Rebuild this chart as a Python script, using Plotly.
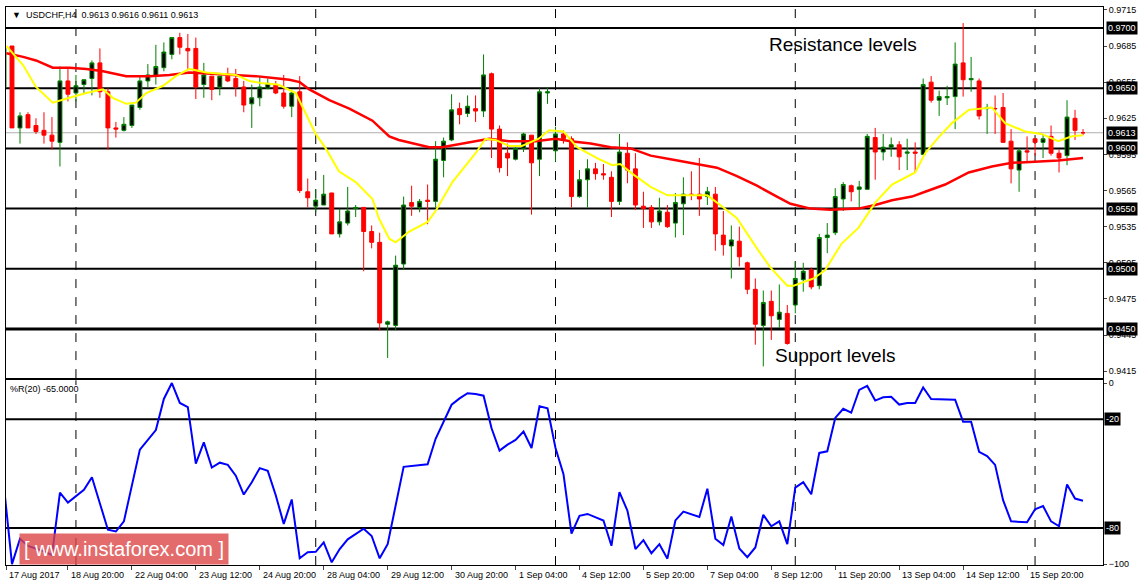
import plotly.graph_objects as go

# ---------------- data ----------------
opens = [.9650,.9685,.9617,.9628,.9619,.9615,.9611,.9605,.9656,.9646,.9653,.9658,.9671,.9647,.9617,.9615,.9619,.9634,.9656,.9660,
         .9667,.9678,.9692,.9683,.9683,.9653,.9660,.9651,.9660,.9658,.9651,.9637,.9642,.9650,.9653,.9646,.9635,.9647,.9564,.9552,
         .9553,.9563,.9529,.9538,.9550,.9551,.9531,.9522,.9454,.9453,.9504,.9555,.9551,.9557,.9556,.9590,.9607,.9633,.9629,.9633,
         .9631,.9662,.9616,.9596,.9591,.9600,.9611,.9591,.9646,.9598,.9612,.9608,.9560,.9574,.9583,.9579,.9576,.9556,.9596,.9583,
         .9552,.9551,.9539,.9547,.9538,.9554,.9562,.9562,.9560,.9562,.9528,.9519,.9523,.9505,.9483,.9453,.9473,.9458,.9463,.9470,
         .9491,.9499,.9486,.9526,.9530,.9558,.9569,.9566,.9566,.9609,.9597,.9601,.9603,.9596,.9597,.9595,.9655,.9640,.9642,.9643,
         .9671,.9657,.9656,.9633,.9633,.9634,.9606,.9582,.9598,.9608,.9605,.9610,.9596,.9594,.9625,.9613]
highs = [.9696,.9685,.9630,.9630,.9625,.9630,.9626,.9668,.9667,.9661,.9657,.9673,.9683,.9650,.9622,.9626,.9636,.9660,.9670,.9686,
         .9688,.9692,.9696,.9695,.9692,.9671,.9660,.9660,.9667,.9666,.9656,.9653,.9660,.9658,.9656,.9661,.9648,.9660,.9575,.9566,
         .9578,.9563,.9550,.9568,.9553,.9551,.9536,.9530,.9457,.9511,.9560,.9569,.9558,.9570,.9606,.9609,.9645,.9638,.9644,.9644,
         .9678,.9663,.9619,.9604,.9601,.9613,.9611,.9650,.9651,.9618,.9615,.9610,.9582,.9591,.9588,.9587,.9581,.9612,.9605,.9596,
         .9564,.9553,.9559,.9553,.9563,.9576,.9581,.9592,.9568,.9568,.9548,.9536,.9535,.9506,.9492,.9482,.9482,.9487,.9470,.9506,
         .9505,.9501,.9529,.9538,.9567,.9572,.9570,.9573,.9612,.9617,.9612,.9609,.9606,.9608,.9605,.9658,.9660,.9648,.9652,.9688,
         .9704,.9676,.9658,.9637,.9644,.9646,.9616,.9600,.9610,.9608,.9612,.9619,.9599,.9640,.9632,.9616]
lows = [.9650,.9617,.9604,.9617,.9612,.9604,.9599,.9585,.9639,.9639,.9646,.9644,.9642,.9599,.9609,.9614,.9617,.9632,.9651,.9653,
        .9664,.9674,.9678,.9665,.9641,.9642,.9640,.9644,.9655,.9643,.9630,.9617,.9635,.9649,.9645,.9633,.9626,.9563,.9551,.9547,
        .9553,.9529,.9526,.9536,.9543,.9498,.9517,.9449,.9426,.9449,.9499,.9544,.9547,.9537,.9551,.9576,.9606,.9620,.9626,.9622,
        .9626,.9592,.9580,.9577,.9590,.9597,.9545,.9577,.9637,.9589,.9604,.9551,.9559,.9551,.9574,.9574,.9543,.9553,.9571,.9549,
        .9534,.9534,.9536,.9534,.9526,.9528,.9557,.9544,.9553,.9515,.9511,.9492,.9502,.9479,.9437,.9419,.9441,.9451,.9437,.9463,
        .9481,.9483,.9483,.9513,.9528,.9548,.9556,.9549,.9566,.9574,.9590,.9593,.9582,.9582,.9580,.9595,.9638,.9627,.9636,.9616,
        .9643,.9647,.9624,.9612,.9612,.9605,.9571,.9564,.9588,.9594,.9592,.9594,.9580,.9586,.9607,.9611]
closes = [.9683,.9617,.9627,.9617,.9614,.9611,.9606,.9656,.9645,.9652,.9657,.9671,.9647,.9617,.9616,.9620,.9636,.9656,.9661,.9668,
          .9680,.9692,.9684,.9681,.9651,.9661,.9649,.9660,.9656,.9651,.9636,.9642,.9651,.9654,.9646,.9635,.9646,.9565,.9559,.9557,
          .9562,.9529,.9539,.9548,.9551,.9531,.9522,.9455,.9456,.9503,.9553,.9552,.9556,.9556,.9591,.9606,.9632,.9628,.9635,.9631,
          .9661,.9616,.9584,.9592,.9600,.9612,.9588,.9647,.9647,.9612,.9608,.9560,.9574,.9583,.9579,.9578,.9556,.9597,.9582,.9553,
          .9550,.9539,.9548,.9535,.9555,.9562,.9561,.9558,.9564,.9529,.9520,.9524,.9510,.9483,.9454,.9472,.9461,.9464,.9438,.9492,
          .9498,.9485,.9526,.9528,.9560,.9570,.9564,.9568,.9610,.9597,.9601,.9603,.9593,.9597,.9596,.9653,.9640,.9643,.9643,.9670,
          .9657,.9658,.9627,.9634,.9633,.9605,.9583,.9598,.9597,.9605,.9608,.9596,.9592,.9626,.9615,.9613]
bars = list(range(len(closes)))

fast_ma_x = [0.3,2.4,4.0,6.1,8.2,10.3,12.4,13.6,15.3,16.5,17.8,19.9,21.5,23.2,25.3,27.4,29.0,30.7,32.4,34.3,
             36.5,37.75,39,40.25,41.9,44,46.1,46.9,48.2,49,50.7,53,54,56.1,59,60.25,61.5,63.2,64.8,66.9,68.2,
             70,71.7,74.2,76.1,77.1,78.8,80.9,83,85,88,89.6,91.7,94.2,95.9,98,98.8,101.3,
             102.75,104.8,106.9,109,111.1,114,115.25,116.9,118.6,120.7,123.6,125.25,127.75,129.8,131.9,133.6,135]
fast_ma = [.9685,.9669,.9651,.9638,.9642,.9646,.9649,.9642,.9637,.9638,.9646,.9652,.9660,.9666,.9663,.9662,.9661,.9656,.9654,.9653,
           .9646,.9629,.9612,.9600,.9581,.9572,.9558,.9542,.9525,.9522,.9531,.9539,.9548,.9572,.9596,.9608,.9607,.9602,.9602,.9608,.9615,
           .9614,.9601,.9592,.9586,.9587,.9578,.9568,.9561,.9561,.9561,.9553,.9542,.9517,.9501,.9486,.9486,.9492,
           .9499,.9521,.9534,.9555,.9570,.9580,.9596,.9609,.9621,.9632,.9634,.9621,.9614,.9612,.9606,.9610,.9611]
slow_ma_x = [0.3,2.4,4.0,6.1,8.2,10.3,12.4,15.3,18.2,20.7,23.2,25.7,29.0,31.5,34.3,
             35.7,37,38.2,40.7,43.2,46.1,48.2,49.4,53.2,54.8,57.3,60.7,63.2,66.5,69,
             70.9,73.4,75.9,78.4,80.9,83.4,86.7,89.2,91.7,94.2,96.7,98.4,100.9,103.4,
             106.9,109,111.1,113.6,115.25,117.75,120.7,123.6,126.1,129.4,131.9,135]
slow_ma = [.9679,.9676,.9673,.9667,.9667,.9666,.9664,.9660,.9660,.9661,.9663,.9662,.9661,.9660,.9658,
           .9657,.9655,.9649,.9640,.9633,.9623,.9610,.9607,.9601,.9601,.9604,.9608,.9606,.9606,.9608,
           .9606,.9604,.9601,.9600,.9594,.9591,.9587,.9584,.9577,.9569,.9560,.9554,.9550,.9549,
           .9550,.9553,.9557,.9560,.9564,.9570,.9580,.9585,.9588,.9589,.9590,.9592]

wpr_x = [0,1,2,3,5,6,7,8,10,11,12,13,14,15,17,19,20,21,22,23,24,25,26,27,28,29,30,31,32,33,34,35,36,37,38,39,40,41,42,43,
         45,46,47,48,50,53,54,55,56,57,58,59,60,61,62,63,64,65,66,67,
         68,69,70,71,72,73,75,76,77,78,79,80,81,82,83,84,85,87,88,89,90,91,92,93,94,95,96,97,98,99,100,101,102,103,104,
         105,106,107,108,109,110,111,112,113,114,115,116,119,120,121,122,123,124,125,126,128,129,130,131,132,133,134,135]
wpr = [-57.5,-100,-86,-90,-93,-95,-60.5,-66,-59,-52,-66.5,-81,-82,-76.4,-36.8,-26,-8.8,0,-11,-13.3,-44.5,-32.8,-46.7,-44,
       -45.2,-51.2,-61.6,-54.8,-47,-48.5,-62,-77.8,-64.3,-96.8,-93.5,-93.2,-88,-99,-91.7,-86.3,
       -80.5,-84.5,-96.8,-89,-46.3,-44.9,-30.8,-21.4,-12,-8.5,-5.6,-6.1,-7,-25,-37.3,-34,-31.4,-26.8,-35.9,-12.8,
       -14,-35.9,-50.3,-83.2,-73.3,-72.3,-75.9,-89.9,-60.2,-70.5,-91.7,-86.8,-94,-89,-97,-75.9,-71,-74,-58.4,-86,-89.5,
       -73.7,-91.4,-96.2,-90.8,-72.8,-79.1,-76.4,-89,-57.8,-54.8,-61.4,-38.6,-37.7,-19.3,
       -14.2,-16.4,-3.8,-1.6,-9.7,-7.9,-7.6,-11.9,-11,-11,-2.5,-8.8,-9.2,-21.4,-21.4,-38,-40.4,-45.2,-64.7,-76.4,
       -76.9,-69.7,-67.9,-76.4,-79.1,-56,-63.8,-65]

levels = [0.9700, 0.9650, 0.9600, 0.9550, 0.9500, 0.9450]
bid = 0.9613
price_ticks = [0.9715,0.9685,0.9655,0.9625,0.9595,0.9565,0.9535,0.9505,0.9475,0.9445,0.9415]
wpr_levels = [-20, -80]
sep_bars = [9, 39, 69, 99, 129]
date_bars = [0.3] + list(range(8, 129, 8))
date_labels = ["17 Aug 2017","18 Aug 20:00","22 Aug 04:00","23 Aug 12:00","24 Aug 20:00","28 Aug 04:00",
               "29 Aug 12:00","30 Aug 20:00","1 Sep 04:00","4 Sep 12:00","5 Sep 20:00","7 Sep 04:00",
               "8 Sep 12:00","11 Sep 20:00","13 Sep 04:00","14 Sep 12:00","15 Sep 20:00"]

FONT = "Liberation Sans"
FS = 9
fig = go.Figure()
fig.add_trace(go.Candlestick(x=bars, open=opens, high=highs, low=lows, close=closes,
    increasing=dict(line=dict(color="#008000", width=1), fillcolor="black"),
    decreasing=dict(line=dict(color="#ff0000", width=1), fillcolor="#ff0000"),
    whiskerwidth=0, xaxis="x", yaxis="y", showlegend=False, hoverinfo="skip"))
fig.add_trace(go.Scatter(x=slow_ma_x, y=slow_ma, mode="lines", line=dict(color="#ff0000", width=2.5),
                         xaxis="x", yaxis="y", showlegend=False))
fig.add_trace(go.Scatter(x=fast_ma_x, y=fast_ma, mode="lines", line=dict(color="#ffff00", width=2),
                         xaxis="x", yaxis="y", showlegend=False))
fig.add_trace(go.Scatter(x=wpr_x, y=wpr, mode="lines", line=dict(color="#0000ff", width=2),
                         xaxis="x2", yaxis="y2", showlegend=False))

shapes = []
for lv in levels:
    shapes.append(dict(type="line", xref="x domain", yref="y", x0=0, x1=1, y0=lv, y1=lv,
                       line=dict(color="black", width=3 if lv == 0.9450 else 2), layer="below"))
shapes.append(dict(type="line", xref="x domain", yref="y", x0=0, x1=1, y0=bid, y1=bid,
                   line=dict(color="#b0b0b0", width=1), layer="below"))
for lv in wpr_levels:
    shapes.append(dict(type="line", xref="x2 domain", yref="y2", x0=0, x1=1, y0=lv, y1=lv,
                       line=dict(color="black", width=2), layer="below"))
for b in sep_bars:
    shapes.append(dict(type="line", xref="x", yref="y domain", x0=b, x1=b, y0=0, y1=1,
                       line=dict(color="black", width=1, dash="dash"), layer="below"))
    shapes.append(dict(type="line", xref="x", yref="y2 domain", x0=b, x1=b, y0=0, y1=1,
                       line=dict(color="black", width=1, dash="dash"), layer="below"))

ann = []
for lv in levels + [bid]:
    ann.append(dict(xref="paper", yref="y", x=1, y=lv, xanchor="left", xshift=3, showarrow=False,
                    text=f"{lv:.4f}", font=dict(color="white", size=FS, family=FONT), bgcolor="black", borderpad=1))
for lv in wpr_levels:
    ann.append(dict(xref="paper", yref="y2", x=1, y=lv, xanchor="left", xshift=1, showarrow=False,
                    text=str(lv), font=dict(color="white", size=FS, family=FONT), bgcolor="black", borderpad=1))
for b, t in zip(date_bars, date_labels):
    ann.append(dict(xref="x2", yref="paper", x=b, y=0, yanchor="top", yshift=-3, xanchor="left", xshift=1,
                    showarrow=False, text=t, font=dict(size=FS, family=FONT, color="black")))
ann.append(dict(xref="paper", yref="paper", x=0, y=1, xanchor="left", yanchor="top", xshift=4, yshift=-1,
                showarrow=False, text="▼  USDCHF,H4  0.9613 0.9616 0.9611 0.9613",
                font=dict(size=FS, family=FONT, color="black")))
ann.append(dict(xref="paper", yref="y2 domain", x=0, y=1, xanchor="left", yanchor="top", xshift=2, yshift=-2,
                showarrow=False, text="%R(20) -65.0000", font=dict(size=FS, family=FONT, color="black")))
ann.append(dict(xref="x", yref="y", x=95.5, y=0.96865, xanchor="left", yanchor="middle", showarrow=False,
                text="Resistance levels", font=dict(size=19, family="Liberation Sans", color="black")))
ann.append(dict(xref="x", yref="y", x=96.2, y=0.9428, xanchor="left", yanchor="middle", showarrow=False,
                text="Support levels", font=dict(size=19, family="Liberation Sans", color="black")))
ann.append(dict(xref="paper", yref="paper", x=0.012, y=0.0, xanchor="left", yanchor="bottom", showarrow=False,
                text="[ www.instaforex.com ]", font=dict(size=20, family="Liberation Sans", color="white"),
                bgcolor="rgba(220,70,70,0.8)", borderpad=4))

xr = [0.25, 137.5]
fig.update_layout(
    width=1143, height=585, margin=dict(l=5, r=40, t=5, b=20),
    paper_bgcolor="white", plot_bgcolor="white",
    font=dict(family=FONT, size=FS, color="black"),
    shapes=shapes, annotations=ann, hovermode=False,
    xaxis=dict(domain=[0, 1], range=xr, rangeslider=dict(visible=False), showgrid=False, zeroline=False,
               showticklabels=False, showline=True, mirror=True, linecolor="black", anchor="y"),
    yaxis=dict(domain=[0.335, 1], range=[0.94093, 0.97174], side="right", tickvals=price_ticks,
               ticktext=[f"{v:.4f}" for v in price_ticks], ticks="outside", ticklen=3,
               showgrid=False, zeroline=False, showline=True, mirror=True, linecolor="black",
               tickfont=dict(size=FS, family=FONT)),
    xaxis2=dict(domain=[0, 1], range=xr, showgrid=False, zeroline=False, anchor="y2",
                tickvals=date_bars, ticktext=[""] * len(date_bars), ticks="outside", ticklen=4,
                showline=True, mirror=True, linecolor="black"),
    yaxis2=dict(domain=[0, 0.331], range=[-100.5, 1.5], side="right", tickvals=[0, -100],
                ticks="outside", ticklen=3, showgrid=False, zeroline=False, showline=True, mirror=True,
                linecolor="black", tickfont=dict(size=FS, family=FONT)),
)
fig.write_html("out.html", config={"displayModeBar": False},
               post_script="document.body.style.margin='0';document.body.style.overflow='hidden';")
